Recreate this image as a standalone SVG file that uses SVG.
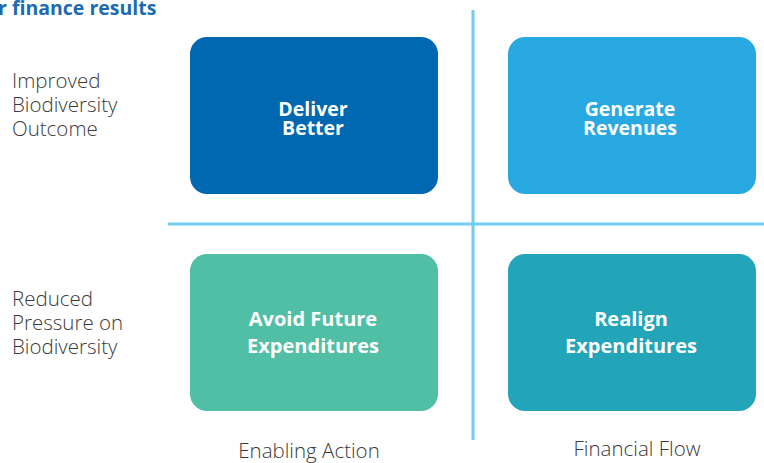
<svg xmlns="http://www.w3.org/2000/svg" width="764" height="463" viewBox="0 0 764 463">
<style>
.box-label{font-family:"Open Sans","Liberation Sans",sans-serif;font-weight:700;fill:#ffffff;text-anchor:middle}
.axis{font-family:"Open Sans","Liberation Sans",sans-serif;font-weight:300;fill:#3a3a3a;font-size:20.5px}
.title{font-family:"Open Sans","Liberation Sans",sans-serif;font-weight:700;fill:#1b6bb3;font-size:19.5px}
.div{stroke:#73cdf2;stroke-width:3;fill:none}
</style>
<rect width="764" height="463" fill="#ffffff"/>
<text class="title" x="-2" y="15">r finance results</text>
<g id="dividers">
<line class="div" x1="473" y1="10" x2="473" y2="440"/>
<line class="div" x1="168" y1="224" x2="764" y2="224"/>
</g>
<g id="deliver-better">
<rect x="190" y="37" width="248" height="157" rx="17" fill="#0067b1"/>
<text class="box-label" x="313" y="116" font-size="19.5">Deliver</text>
<text class="box-label" x="313" y="135" font-size="19.5">Better</text>
</g>
<g id="generate-revenues">
<rect x="508" y="37" width="248" height="157" rx="17" fill="#29a9e1"/>
<text class="box-label" x="630" y="116" font-size="19.5">Generate</text>
<text class="box-label" x="630" y="135" font-size="19.5">Revenues</text>
</g>
<g id="avoid-future-expenditures">
<rect x="190" y="254" width="248" height="157" rx="17" fill="#50bfa5"/>
<text class="box-label" x="313" y="326" font-size="20">Avoid Future</text>
<text class="box-label" x="313" y="353" font-size="20">Expenditures</text>
</g>
<g id="realign-expenditures">
<rect x="508" y="254" width="248" height="157" rx="17" fill="#22a4b9"/>
<text class="box-label" x="631" y="326" font-size="20">Realign</text>
<text class="box-label" x="631" y="353" font-size="20">Expenditures</text>
</g>
<g id="row-labels">
<text class="axis" x="12" y="88">Improved</text>
<text class="axis" x="12" y="112">Biodiversity</text>
<text class="axis" x="12" y="136">Outcome</text>
<text class="axis" x="12" y="306">Reduced</text>
<text class="axis" x="12" y="330">Pressure on</text>
<text class="axis" x="12" y="354">Biodiversity</text>
</g>
<g id="col-labels">
<text class="axis" x="309" y="458" text-anchor="middle" font-size="21">Enabling Action</text>
<text class="axis" x="637" y="456" text-anchor="middle" font-size="21">Financial Flow</text>
</g>
</svg>
